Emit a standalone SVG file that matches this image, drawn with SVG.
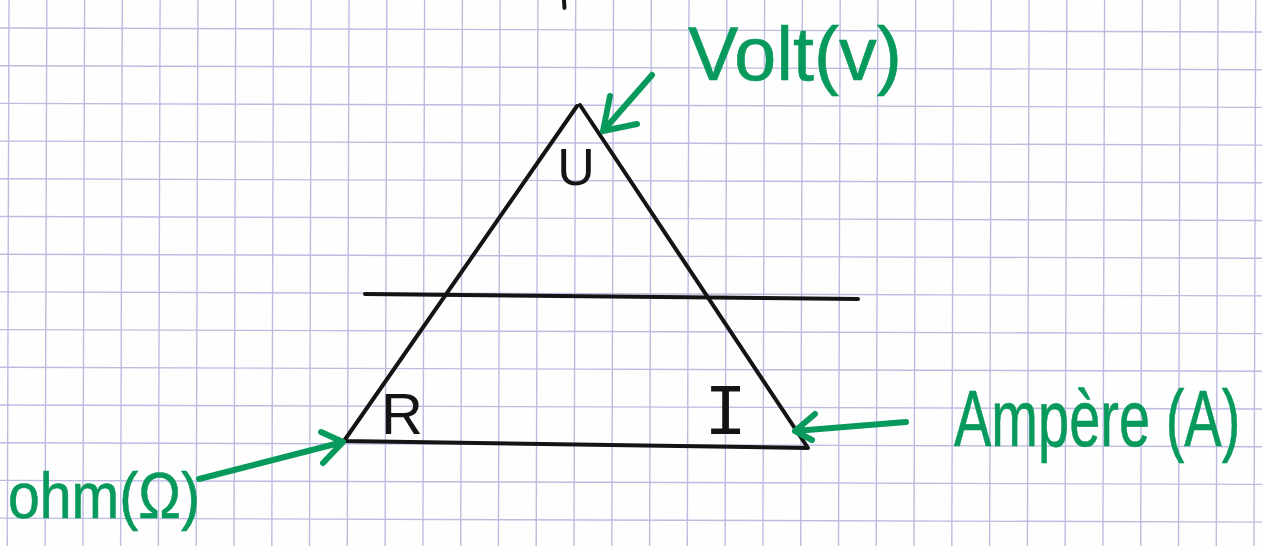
<svg xmlns="http://www.w3.org/2000/svg" width="1262" height="546" viewBox="0 0 1262 546">
  <style>
    .grid { fill: none; stroke: #bcbce2; stroke-width: 1.4; }
    .ink { fill: none; stroke: #141414; stroke-width: 4; stroke-linecap: round; stroke-linejoin: round; }
    .pen { fill: none; stroke: #089a5c; stroke-width: 6; stroke-linecap: round; stroke-linejoin: round; }
    .blk { fill: #141414; font-family: "Liberation Sans", "DejaVu Sans", sans-serif; }
    .mono { fill: #141414; font-family: "Liberation Mono", "DejaVu Sans Mono", monospace; }
    .grn { fill: #089a5c; stroke: #089a5c; stroke-width: 0.6; font-family: "Liberation Sans", "DejaVu Sans", sans-serif; }
  </style>
  <rect width="1262" height="546" fill="#fefefe"/>
  <g id="grid">
    <path class="grid" d="M9 0L7.3 546M46.8 0L45.1 546M84.6 0L82.9 546M122.3 0L120.6 546M160.1 0L158.4 546M197.9 0L196.2 546M235.7 0L234 546M273.5 0L271.8 546M311.2 0L309.5 546M349 0L347.3 546M386.8 0L385.1 546M424.6 0L422.9 546M462.4 0L460.7 546M500.1 0L498.4 546M537.9 0L536.2 546M575.7 0L574 546M613.5 0L611.8 546M651.3 0L649.6 546M689 0L687.3 546M726.8 0L725.1 546M764.6 0L762.9 546M802.4 0L800.7 546M840.2 0L838.5 546M877.9 0L876.2 546M915.7 0L914 546M953.5 0L951.8 546M991.3 0L989.6 546M1029.1 0L1027.4 546M1066.8 0L1065.1 546M1104.6 0L1102.9 546M1142.4 0L1140.7 546M1180.2 0L1178.5 546M1218 0L1216.3 546M1255.7 0L1254 546"/>
    <path class="grid" d="M0 28L1262 32M0 65.7L1262 69.7M0 103.4L1262 107.4M0 141.1L1262 145.1M0 178.8L1262 182.8M0 216.5L1262 220.5M0 254.2L1262 258.2M0 291.9L1262 295.9M0 329.6L1262 333.6M0 367.3L1262 371.3M0 405L1262 409M0 442.7L1262 446.7M0 480.4L1262 484.4M0 518.1L1262 522.1"/>
  </g>
  <path class="ink" d="M564 0L564.5 8"/>
  <g id="triangle">
    <path class="ink" d="M577 106L344 441L808 448L580 105"/>
    <path class="ink" d="M365 294L858 299"/>
  </g>
  <g id="label-U">
    <text class="blk" x="576" y="185" font-size="52" text-anchor="middle">U</text>
  </g>
  <g id="label-R">
    <text class="blk" x="381" y="434" font-size="58">R</text>
  </g>
  <g id="label-I">
    <text class="mono" x="704" y="434" font-size="72">I</text>
  </g>
  <g id="label-volt">
    <text class="grn" x="688" y="80" font-size="76" textLength="214" lengthAdjust="spacingAndGlyphs">Volt(v)</text>
  </g>
  <g id="label-ampere">
    <text class="grn" transform="translate(954 446) scale(0.7 1)" x="0" y="0" font-size="80">Ampère (A)</text>
  </g>
  <g id="label-ohm">
    <text class="grn" x="8" y="518" font-size="64" textLength="192" lengthAdjust="spacingAndGlyphs">ohm(Ω)</text>
  </g>
  <g id="connectors">
    <path class="pen" d="M652 75L603 131M610 96L603 131L637 124"/>
    <path class="pen" d="M906 422L795 431M815 414L795 431L812 440"/>
    <path class="pen" d="M199 479L343 442M321 432L343 442L323 463"/>
  </g>
</svg>
